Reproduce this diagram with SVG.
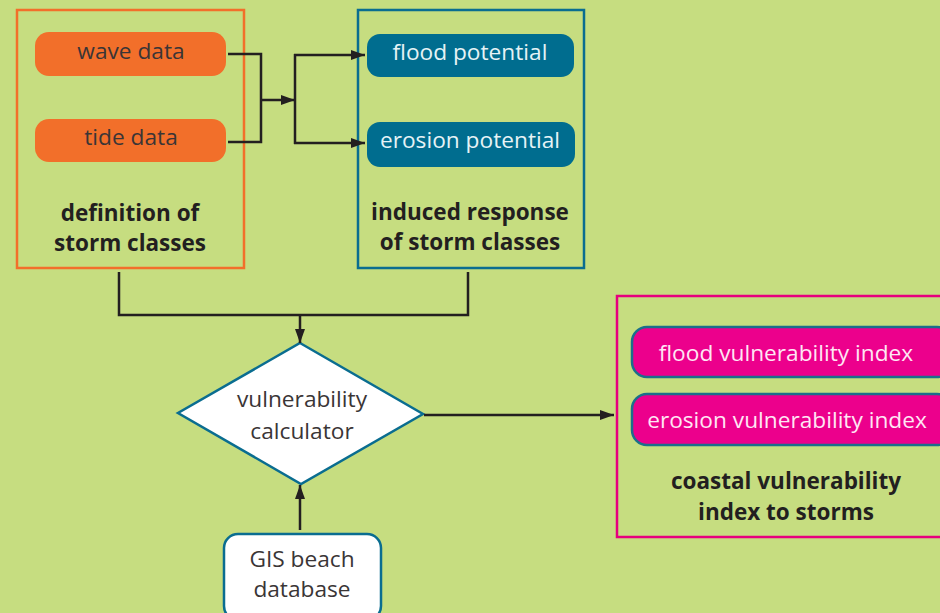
<svg xmlns="http://www.w3.org/2000/svg" width="940" height="613" viewBox="0 0 940 613">
<style>
.lt{font-family:"Open Sans","Liberation Sans",sans-serif;font-size:22.7px;text-anchor:middle}
.bd{font-family:"Open Sans","Liberation Sans",sans-serif;font-size:22.5px;font-weight:bold;text-anchor:middle;fill:#231f20}
.dk{fill:#3a3536}
.pk{fill:#ffe6f4}
.cn{fill:none;stroke:#231f20;stroke-width:2.5}
</style>
<defs>
<marker id="ah" viewBox="0 0 14 10" refX="14" refY="5" markerWidth="14" markerHeight="10" markerUnits="userSpaceOnUse" orient="auto">
<path d="M0,0 L14,5 L0,10 z" fill="#231f20"/>
</marker>
</defs>
<rect width="940" height="613" fill="#c6dd80"/>

<g id="storm-def">
<rect x="17" y="10" width="227" height="258" fill="none" stroke="#f26f2a" stroke-width="2.5"/>
<text class="bd" x="130" y="221">definition of</text>
<text class="bd" x="130" y="251">storm classes</text>
</g>
<g id="wave-data">
<rect x="35" y="32" width="191" height="44" rx="14" fill="#f26f2a"/>
<text class="lt dk" x="131" y="59">wave data</text>
</g>
<g id="tide-data">
<rect x="35" y="119" width="191" height="43" rx="14" fill="#f26f2a"/>
<text class="lt dk" x="131" y="145">tide data</text>
</g>

<g id="storm-resp">
<rect x="358" y="10" width="226" height="258" fill="none" stroke="#0a6d90" stroke-width="2.5"/>
<text class="bd" x="470" y="220">induced response</text>
<text class="bd" x="470" y="250">of storm classes</text>
</g>
<g id="flood-potential">
<rect x="367" y="34" width="207" height="43" rx="13" fill="#006d8f"/>
<text class="lt" fill="#e6f3f6" x="470" y="60">flood potential</text>
</g>
<g id="erosion-potential">
<rect x="367" y="122" width="208" height="45" rx="13" fill="#006d8f"/>
<text class="lt" fill="#e6f3f6" x="470" y="148">erosion potential</text>
</g>

<g id="calculator">
<polygon points="300,343 423,414 301,484 178,413" fill="#ffffff" stroke="#0a6d90" stroke-width="2.5"/>
<text class="lt dk" x="302" y="407">vulnerability</text>
<text class="lt dk" x="302" y="439">calculator</text>
</g>

<g id="gis">
<rect x="224" y="534" width="157" height="86" rx="14" fill="#ffffff" stroke="#0a6d90" stroke-width="2.5"/>
<text class="lt dk" x="302" y="567">GIS beach</text>
<text class="lt dk" x="302" y="597">database</text>
</g>

<g id="index">
<rect x="617" y="296" width="330" height="241" fill="none" stroke="#e6007e" stroke-width="2.5"/>
<text class="bd" x="786" y="489">coastal vulnerability</text>
<text class="bd" x="786" y="520">index to storms</text>
</g>
<g id="flood-index">
<rect x="632" y="327" width="320" height="50" rx="15" fill="#ec008c" stroke="#1b6f8a" stroke-width="2.5"/>
<text class="lt pk" x="786" y="361">flood vulnerability index</text>
</g>
<g id="erosion-index">
<rect x="632" y="394" width="320" height="51" rx="15" fill="#ec008c" stroke="#1b6f8a" stroke-width="2.5"/>
<text class="lt pk" x="787" y="428">erosion vulnerability index</text>
</g>

<g id="connectors">
<polyline class="cn" points="228,54 261,54 261,142 228,142"/>
<line class="cn" x1="261" y1="100" x2="295" y2="100" marker-end="url(#ah)"/>
<line class="cn" x1="295" y1="54" x2="295" y2="144"/>
<line class="cn" x1="294" y1="55" x2="365" y2="55" marker-end="url(#ah)"/>
<line class="cn" x1="294" y1="143" x2="365" y2="143" marker-end="url(#ah)"/>
<polyline class="cn" points="119,272 119,315 468,315 468,272"/>
<line class="cn" x1="300" y1="315" x2="300" y2="343" marker-end="url(#ah)"/>
<line class="cn" x1="424" y1="415" x2="614" y2="415" marker-end="url(#ah)"/>
<line class="cn" x1="300" y1="530" x2="300" y2="485" marker-end="url(#ah)"/>
</g>
</svg>
